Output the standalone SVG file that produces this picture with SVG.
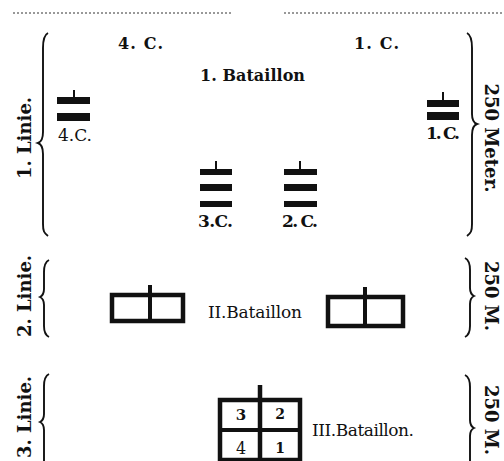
<svg xmlns="http://www.w3.org/2000/svg" width="504" height="461" viewBox="0 0 504 461">
<style>
.b{font-family:"DejaVu Serif","Liberation Serif",serif;font-weight:bold;fill:#111}
.r{font-family:"DejaVu Serif","Liberation Serif",serif;font-weight:normal;fill:#111}
.br{fill:none;stroke:#111;stroke-width:1.9}
.bar{fill:#111}
.box{fill:#fff;stroke:#111;stroke-width:4.5}
.dot{stroke:#333;stroke-width:1;stroke-dasharray:2,2}
</style>
<rect width="504" height="461" fill="#fff"/>
<g id="top-lines">
<line class="dot" x1="13" y1="13" x2="232" y2="13"/>
<line class="dot" x1="284" y1="13" x2="504" y2="13"/>
</g>
<g id="linie1">
<path class="br" d="M48,33 C44,35 43,40 43,48 L43,132 C43,139 41,142 38,143 C41,144 43,147 43,154 L43,224 C43,231 44,233 48,236"/>
<text class="b" font-size="18" text-anchor="middle" transform="translate(31,138) rotate(-90)">1. Linie.</text>
<path class="br" d="M467,33 C471,35 472,40 472,48 L472,114 C472,120 474,123 477,124 C474,125 472,128 472,135 L472,224 C472,231 471,233 467,236"/>
<text class="b" font-size="18" text-anchor="middle" transform="translate(485,138) rotate(90)">250 Meter.</text>
<text class="b" font-size="16" x="118" y="49" textLength="45">4. C.</text>
<text class="b" font-size="16" x="354" y="49" textLength="45">1. C.</text>
<text class="b" font-size="16" x="200" y="81" textLength="105">1. Bataillon</text>
</g>
<g id="comp4">
<rect class="bar" x="73" y="90" width="2" height="8"/>
<rect class="bar" x="57" y="97" width="33" height="7"/>
<rect class="bar" x="57" y="113" width="33" height="8"/>
<text class="r" font-size="17" x="58" y="141" textLength="34">4.C.</text>
</g>
<g id="comp3">
<rect class="bar" x="215" y="161" width="2" height="9"/>
<rect class="bar" x="200" y="169" width="32" height="6"/>
<rect class="bar" x="200" y="184" width="32" height="7"/>
<rect class="bar" x="200" y="201" width="32" height="6"/>
<text class="b" font-size="17" x="198" y="227" textLength="35">3.C.</text>
</g>
<g id="comp2">
<rect class="bar" x="299" y="161" width="2" height="9"/>
<rect class="bar" x="284" y="169" width="33" height="6"/>
<rect class="bar" x="284" y="184" width="33" height="7"/>
<rect class="bar" x="284" y="201" width="33" height="6"/>
<text class="b" font-size="17" x="282" y="227" textLength="36">2. C.</text>
</g>
<g id="comp1">
<rect class="bar" x="442" y="92" width="2" height="9"/>
<rect class="bar" x="427" y="100" width="32" height="7"/>
<rect class="bar" x="427" y="112" width="32" height="8"/>
<text class="b" font-size="17" x="426" y="139" textLength="34">1. C.</text>
</g>
<g id="linie2">
<path class="br" d="M49,260 C45,262 44,266 44,272 L44,289 C44,294 42,296 40,297 C42,298 44,300 44,305 L44,326 C44,332 45,335 49,337"/>
<text class="b" font-size="18" text-anchor="middle" transform="translate(31,296) rotate(-90)">2. Linie.</text>
<path class="br" d="M465,258 C469,260 470,264 470,270 L470,288 C470,293 472,295 474,296 C472,297 470,299 470,304 L470,326 C470,332 469,335 465,337"/>
<text class="b" font-size="18" text-anchor="middle" transform="translate(485,296) rotate(90)">250 M.</text>
</g>
<g id="bat2-left">
<rect class="box" x="112" y="295" width="71" height="26"/>
<line x1="150" y1="285" x2="150" y2="323" stroke="#111" stroke-width="4"/>
</g>
<g id="bat2-label">
<text class="r" font-size="17" x="208" y="318" textLength="94">II.Bataillon</text>
</g>
<g id="bat2-right">
<rect class="box" x="328" y="297" width="75" height="29"/>
<line x1="365" y1="287" x2="365" y2="328" stroke="#111" stroke-width="4"/>
</g>
<g id="linie3">
<path class="br" d="M49,374 C45,376 44,380 44,386 L44,414 C44,419 42,421 40,422 C42,423 44,425 44,430 L44,470"/>
<text class="b" font-size="18" text-anchor="middle" transform="translate(31,417) rotate(-90)">3. Linie.</text>
<path class="br" d="M465,375 C469,377 470,381 470,387 L470,420 C470,425 472,427 474,428 C472,429 470,431 470,436 L470,470"/>
<text class="b" font-size="18" text-anchor="middle" transform="translate(485,420) rotate(90)">250 M.</text>
</g>
<g id="bat3">
<rect class="box" x="220" y="400" width="80" height="60"/>
<line x1="260" y1="385" x2="260" y2="461" stroke="#111" stroke-width="4.5"/>
<line x1="220" y1="430" x2="300" y2="430" stroke="#111" stroke-width="4"/>
<text class="b" font-size="15" x="241" y="420" text-anchor="middle">3</text>
<text class="b" font-size="14" x="280" y="419" text-anchor="middle">2</text>
<text class="r" font-size="16" x="241" y="454" text-anchor="middle">4</text>
<text class="b" font-size="14" x="280" y="453" text-anchor="middle">1</text>
<text class="r" font-size="17" x="312" y="436" textLength="102">III.Bataillon.</text>
</g>
</svg>
